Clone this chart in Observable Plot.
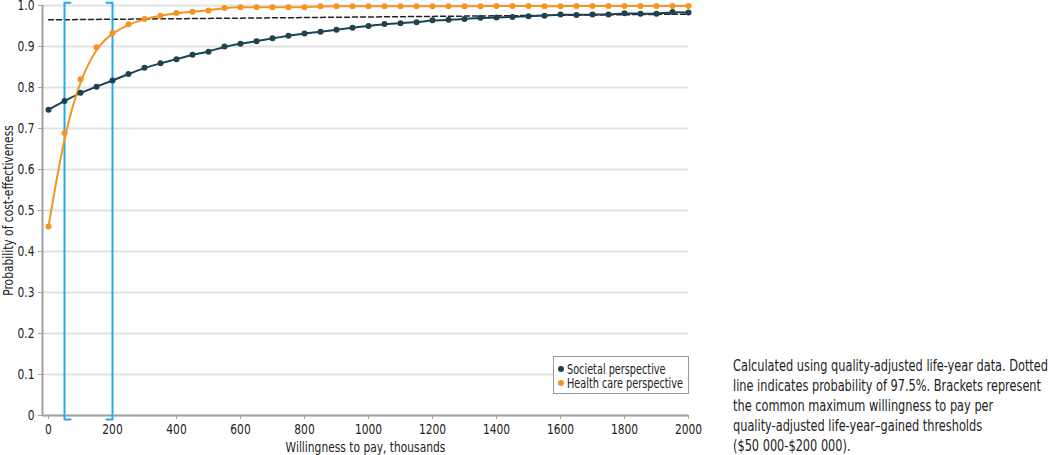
<!DOCTYPE html>
<html>
<head>
<meta charset="utf-8">
<script src="https://cdn.jsdelivr.net/npm/d3@7"></script>
<script src="https://cdn.jsdelivr.net/npm/@observablehq/plot@0.6"></script>
<style>
  html, body { margin: 0; padding: 0; background: #fff; }
  #wrap { position: relative; width: 1050px; height: 455px; overflow: hidden; font-family: "DejaVu Sans Condensed", "DejaVu Sans", sans-serif; color: #222; }
  #chart { position: absolute; left: 0; top: 0; }
  #legend { position: absolute; left: 553px; top: 356px; width: 134px; height: 36px; border: 1.5px solid #9a9a9a; background: #fff; }
  #legend .item { position: absolute; left: 4px; height: 14px; white-space: nowrap; }
  #legend .dot { position: absolute; left: 0; top: 4px; width: 6px; height: 6px; border-radius: 50%; }
  #legend .lab { position: absolute; left: 9px; top: -2px; font-size: 14px; line-height: 18px; transform-origin: 0 50%; }
  #caption { position: absolute; left: 733px; top: 356px; }
  #caption .line { font-size: 16px; line-height: 20px; white-space: nowrap; transform-origin: 0 50%; }
</style>
</head>
<body>
<div id="wrap">
  <div id="chart"></div>
  <div id="legend"></div>
  <div id="caption"></div>
</div>
<script>
// ---- data ----
const wtp = d3.range(0, 2001, 50); // willingness to pay, thousands
const societal = [0.746, 0.767, 0.787, 0.802, 0.817, 0.833, 0.848, 0.859, 0.869, 0.880,
  0.887, 0.900, 0.907, 0.913, 0.920, 0.926, 0.932, 0.936, 0.941, 0.946,
  0.950, 0.955, 0.957, 0.959, 0.964, 0.965, 0.967, 0.970, 0.971, 0.972,
  0.974, 0.975, 0.978, 0.977, 0.978, 0.978, 0.981, 0.980, 0.980, 0.984, 0.983];
const healthCare = [0.461, 0.689, 0.820, 0.898, 0.933, 0.954, 0.967, 0.975, 0.982, 0.985,
  0.988, 0.994, 0.996, 0.996, 0.996, 0.996, 0.996, 0.998, 0.998, 0.998,
  0.998, 0.998, 0.998, 0.998, 0.998, 0.998, 0.998, 0.998, 0.999, 0.999,
  0.999, 0.998, 0.998, 0.999, 0.999, 0.999, 0.999, 0.999, 0.999, 0.999, 0.999];
const seriesNames = ["Societal perspective", "Health care perspective"];
const seriesColors = ["#1d4352", "#f7931e"];
const referenceLine = [{x: 0, y: 0.965}, {x: 2000, y: 0.979}]; // "97.5%" dotted line as drawn
const thresholds = [50, 200]; // $50 000 - $200 000 brackets
const xTicks = d3.range(0, 2001, 200);
const yTicks = d3.range(0, 1.0001, 0.1).map(v => +v.toFixed(1));
const captionLines = [
  "Calculated using quality-adjusted life-year data. Dotted",
  "line indicates probability of 97.5%. Brackets represent",
  "the common maximum willingness to pay per",
  "quality-adjusted life-year–gained thresholds",
  "($50 000-$200 000)."
];

// ---- build tables ----
const rows = [];
wtp.forEach((x, i) => {
  rows.push({x, y: societal[i], s: seriesNames[0]});
  rows.push({x, y: healthCare[i], s: seriesNames[1]});
});
const xMin = -18.75;
const serif = 19;      // bracket serif length in x units
const bTop = 1.007, bBot = -0.01;
const brackets = [
  [{x: thresholds[0] + serif, y: bTop}, {x: thresholds[0], y: bTop}, {x: thresholds[0], y: bBot}, {x: thresholds[0] + serif, y: bBot}],
  [{x: thresholds[1] - serif, y: bTop}, {x: thresholds[1], y: bTop}, {x: thresholds[1], y: bBot}, {x: thresholds[1] - serif, y: bBot}]
].flatMap((b, k) => b.map(p => ({...p, k})));

const font = '"DejaVu Sans Condensed", "DejaVu Sans", sans-serif';
const color = {domain: seriesNames, range: seriesColors};

const chart = Plot.plot({
  width: 712,
  height: 455,
  marginLeft: 42,
  marginRight: 24,
  marginTop: 5,
  marginBottom: 40,
  style: {fontFamily: font, fontSize: "14.5px", color: "#222", background: "transparent", overflow: "visible"},
  x: {domain: [xMin, 2000]},
  y: {domain: [0, 1]},
  color,
  marks: [
    Plot.gridY(yTicks, {stroke: "#e2e2e2", strokeOpacity: 1, strokeWidth: 2}),
    Plot.ruleY([0], {stroke: "#a0a0a0", strokeWidth: 2}),
    Plot.ruleX([xMin], {stroke: "#a0a0a0", strokeWidth: 2}),
    Plot.axisX({ticks: xTicks, tickSize: 4, tickPadding: 4, stroke: "#a0a0a0", tickFormat: d => String(d), label: "Willingness to pay, thousands", labelAnchor: "center", labelArrow: "none", labelOffset: 36, fontSize: 14.5}),
    Plot.axisY({ticks: yTicks, tickSize: 4, tickPadding: 4, stroke: "#a0a0a0", tickFormat: d => d === 0 ? "0" : d3.format(".1f")(d), label: "Probability of cost-effectiveness", labelAnchor: "center", labelArrow: "none", labelOffset: 40, fontSize: 14.5}),
    Plot.line(referenceLine, {x: "x", y: "y", stroke: "#222", strokeWidth: 1.5, strokeDasharray: "5,3"}),
    Plot.line(brackets, {x: "x", y: "y", z: "k", stroke: "#22aaee", strokeWidth: 2}),
    Plot.line(rows, {x: "x", y: "y", z: "s", stroke: "s", strokeWidth: 2, curve: "basis"}),
    Plot.dot(rows, {x: "x", y: "y", fill: "s", r: 3})
  ]
});
// condense chart text horizontally to mimic the narrow typeface of the original
// (only x is rescaled; y keeps its em-based baseline offset)
const squeeze = 0.82;
for (const t of chart.querySelectorAll("text")) {
  const xa = t.getAttribute("x");
  if (xa != null && !isNaN(+xa)) t.setAttribute("x", +xa / squeeze);
  const tr = t.getAttribute("transform") || "";
  t.setAttribute("transform", `${tr} scale(${squeeze},1)`);
}
document.getElementById("chart").appendChild(chart);

// ---- legend ----
const legend = document.getElementById("legend");
seriesNames.forEach((name, i) => {
  const item = document.createElement("div");
  item.className = "item";
  item.style.top = (5 + i * 14) + "px";
  item.innerHTML = `<span class="dot" style="background:${seriesColors[i]}"></span><span class="lab">${name}</span>`;
  legend.appendChild(item);
});
// fit legend text to the width seen in the original
const labs = legend.querySelectorAll(".lab");
const labW = labs[1].getBoundingClientRect().width;
labs.forEach(l => l.style.transform = `scaleX(${116 / labW})`);

// ---- caption ----
const cap = document.getElementById("caption");
captionLines.forEach(s => {
  const d = document.createElement("div");
  d.className = "line";
  const span = document.createElement("span");
  span.textContent = s;
  d.appendChild(span);
  cap.appendChild(d);
});
const firstW = cap.querySelector(".line span").getBoundingClientRect().width;
cap.querySelectorAll(".line").forEach(d => d.style.transform = `scaleX(${315 / firstW})`);
</script>
</body>
</html>
